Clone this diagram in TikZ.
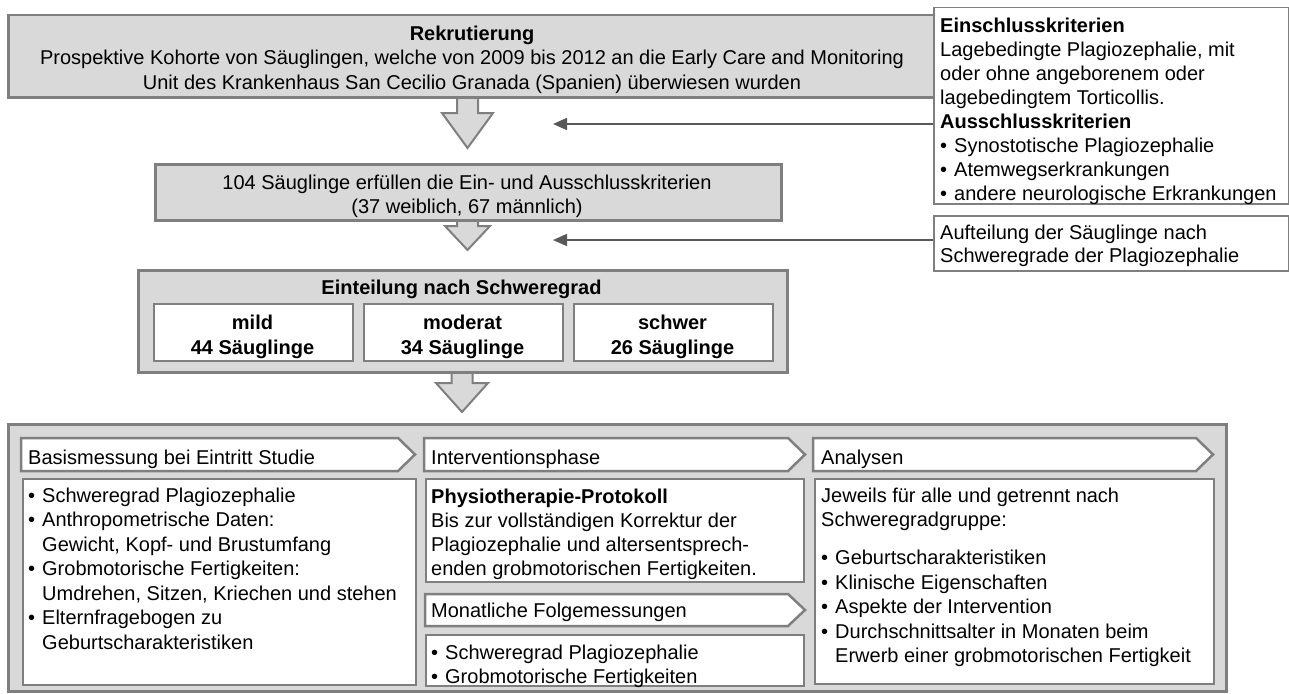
\documentclass[tikz,border=0pt]{standalone}
\usepackage{fontspec}
\setmainfont{Liberation Sans}
\usetikzlibrary{arrows.meta,calc}
\definecolor{boxgray}{HTML}{D9D9D9}
\definecolor{edgegray}{HTML}{7F7F7F}
\definecolor{linegray}{HTML}{595959}
% bullet and hanging indent for list lines
\newcommand\bitem{\makebox[14pt][l]{•}}
\newcommand\bindent{\hspace*{14pt}}
% chevron-shaped header: x-left, x-right, y-top, y-bottom
\newcommand\chevronhdr[4]{%
  \filldraw[hdrbox] (#1,#3) -- ({#2-17},#3) -- (#2,{(#3+#4)/2}) -- ({#2-17},#4) -- (#1,#4) -- cycle;}
% block arrow: centre x, top y, shaft half width, head start y, head half width, tip y
\newcommand\blockarrow[6]{%
  \filldraw[bigarrow] ({#1-#3},#2) -- ({#1-#3},#4) -- ({#1-#5},#4) -- (#1,#6)
    -- ({#1+#5},#4) -- ({#1+#3},#4) -- ({#1+#3},#2) -- cycle;}
\tikzset{
  txt/.style={inner sep=0pt, font=\fontsize{20}{24.5}\selectfont, align=left},
  ctxt/.style={inner sep=0pt, font=\fontsize{20}{24.5}\selectfont, align=center},
  graybox/.style={draw=edgegray, fill=boxgray, line width=2.5pt, inner sep=0pt, anchor=north west},
  whitebox/.style={draw=edgegray, fill=white, line width=2pt, inner sep=0pt, anchor=north west},
  thinbox/.style={draw=edgegray, fill=white, line width=1.5pt, inner sep=0pt, anchor=north west},
  hdrbox/.style={draw=edgegray, fill=white, line width=2.5pt, line join=miter},
  bigarrow/.style={draw=edgegray, fill=boxgray, line width=2pt, line join=miter},
  conn/.style={draw=linegray, line width=1.5pt, -{Triangle[length=14pt,width=12pt]}},
}
\begin{document}
\begin{tikzpicture}[x=1pt,y=-1pt]
\useasboundingbox (0,0) rectangle (1289,693);

% block arrows between the stages
\blockarrow{467.5}{90}{10.5}{113}{25.5}{148}
\blockarrow{467.5}{215}{10.5}{226}{22.5}{250}
\blockarrow{462}{365}{10.5}{383}{26}{412}

% stage boxes
\node[graybox, minimum width=930, minimum height=82] (recr) at (7,14) {};
\node[graybox, minimum width=626, minimum height=56] (sample) at (154,163) {};
\node[graybox, minimum width=649, minimum height=102] (grade) at (137,269) {};
\node[thinbox, minimum width=199, minimum height=57] (mild) at (153,303) {};
\node[thinbox, minimum width=199, minimum height=57] (moder) at (363,303) {};
\node[thinbox, minimum width=199, minimum height=57] (severe) at (573,303) {};

% side notes
\node[thinbox, minimum width=355, minimum height=196] (crit) at (933,7) {};
\node[thinbox, minimum width=355, minimum height=55] (split) at (933,215) {};
\coordinate (t1) at (553,124);
\coordinate (t2) at (553,240);
\draw[conn] (crit.west |- t1) -- (t1);
\draw[conn] (split.west |- t2) -- (t2);

% study procedure panel
\node[graybox, minimum width=1218, minimum height=267] (proc) at (7,423) {};
\chevronhdr{21}{415}{438}{471}
\chevronhdr{424}{805}{438}{471}
\chevronhdr{425}{805}{594}{626}
\chevronhdr{813}{1213}{438}{471}
\node[whitebox, minimum width=393, minimum height=206] (base) at (22,478) {};
\node[whitebox, minimum width=378, minimum height=103] (physio) at (425,478) {};
\node[whitebox, minimum width=378, minimum height=51] (follow) at (425,634) {};
\node[whitebox, minimum width=399, minimum height=205] (anal) at (814,478) {};

% texts (a multi-line node's base is its last line)
\node[ctxt, anchor=base] (recrT) at (472,89) {\textbf{Rekrutierung}\\
  Prospektive Kohorte von Säuglingen, welche von 2009 bis 2012 an die Early Care and Monitoring\\
  Unit des Krankenhaus San Cecilio Granada (Spanien) überwiesen wurden};
\node[ctxt, anchor=base, font=\fontsize{20}{24}\selectfont] (sampleT) at (467,213)
  {104 Säuglinge erfüllen die Ein- und Ausschlusskriterien\\(37 weiblich, 67 männlich)};
\node[ctxt, anchor=base] (gradeT) at (461.5,294) {\textbf{Einteilung nach Schweregrad}};
\node[ctxt, anchor=base, font=\fontsize{20}{25}\selectfont\bfseries] (mildT) at (252.5,354) {mild\\44 Säuglinge};
\node[ctxt, anchor=base, font=\fontsize{20}{25}\selectfont\bfseries] (moderT) at (462.5,354) {moderat\\34 Säuglinge};
\node[ctxt, anchor=base, font=\fontsize{20}{25}\selectfont\bfseries] (severeT) at (672.5,354) {schwer\\26 Säuglinge};

\node[txt, anchor=base west, font=\fontsize{20}{24}\selectfont] (critT) at (940,200)
  {\textbf{Einschlusskriterien}\\
   Lagebedingte Plagiozephalie, mit\\
   oder ohne angeborenem oder\\
   lagebedingtem Torticollis.\\
   \textbf{Ausschlusskriterien}\\
   \bitem Synostotische Plagiozephalie\\
   \bitem Atemwegserkrankungen\\
   \bitem andere neurologische Erkrankungen};
\node[txt, anchor=base west, font=\fontsize{20}{23}\selectfont] (splitT) at (940,262)
  {Aufteilung der Säuglinge nach\\Schweregrade der Plagiozephalie};

\node[txt, anchor=base west] (baseH) at (28,464) {Basismessung bei Eintritt Studie};
\node[txt, anchor=base west] (physioH) at (431,464) {Interventionsphase};
\node[txt, anchor=base west] (followH) at (431,617) {Monatliche Folgemessungen};
\node[txt, anchor=base west] (analH) at (821,464) {Analysen};

\node[txt, anchor=base west] (baseT) at (28,649)
  {\bitem Schweregrad Plagiozephalie\\
   \bitem Anthropometrische Daten:\\
   \bindent Gewicht, Kopf- und Brustumfang\\
   \bitem Grobmotorische Fertigkeiten:\\
   \bindent Umdrehen, Sitzen, Kriechen und stehen\\
   \bitem Elternfragebogen zu\\
   \bindent Geburtscharakteristiken};
\node[txt, anchor=base west, font=\fontsize{20}{24}\selectfont] (physioT) at (431,575)
  {\textbf{Physiotherapie-Protokoll}\\
   Bis zur vollständigen Korrektur der\\
   Plagiozephalie und altersentsprech-\\
   enden grobmotorischen Fertigkeiten.};
\node[txt, anchor=base west, font=\fontsize{20}{24}\selectfont] (followT) at (431,683)
  {\bitem Schweregrad Plagiozephalie\\
   \bitem Grobmotorische Fertigkeiten};
\node[txt, anchor=base west] (analT) at (821,662.5)
  {Jeweils für alle und getrennt nach\\
   Schweregradgruppe:\\[13.5pt]
   \bitem Geburtscharakteristiken\\
   \bitem Klinische Eigenschaften\\
   \bitem Aspekte der Intervention\\
   \bitem Durchschnittsalter in Monaten beim\\
   \bindent Erwerb einer grobmotorischen Fertigkeit};
\end{tikzpicture}
\end{document}
